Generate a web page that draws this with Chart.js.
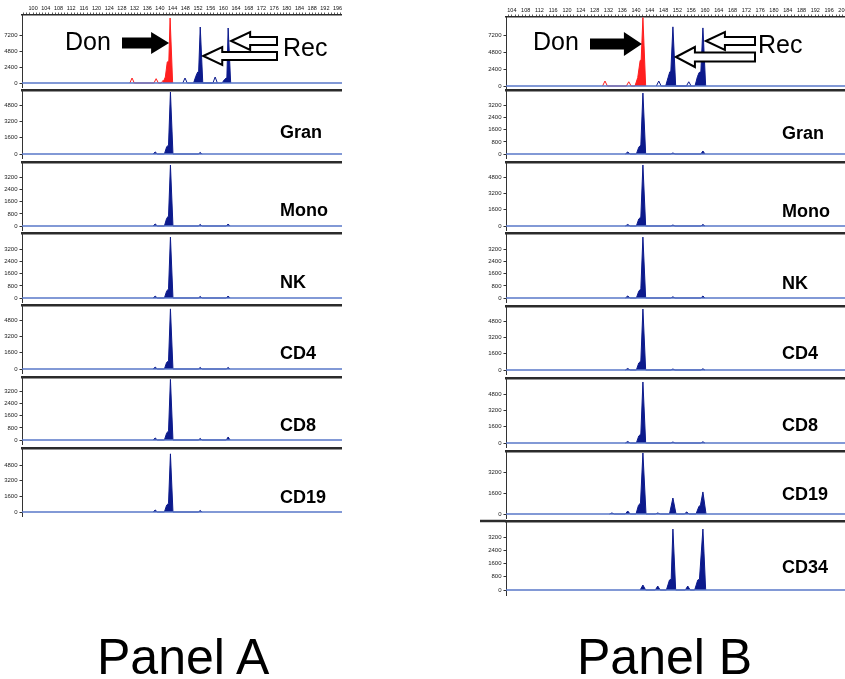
<!DOCTYPE html>
<html>
<head>
<meta charset="utf-8">
<script src="https://cdn.jsdelivr.net/npm/chart.js@4.4.0/dist/chart.umd.min.js"></script>
<style>
  body { margin: 0; background: #fff; width: 845px; height: 679px; position: relative; overflow: hidden;
         font-family: "Liberation Sans", Arial, sans-serif; }
  canvas { position: absolute; }
  .cap { position: absolute; top: 632px; font-size: 50px; line-height: 50px; color: #000; white-space: nowrap; }
</style>
</head>
<body>
<div class="cap" style="left:97px">Panel A</div>
<div class="cap" style="left:577px">Panel B</div>
<script>
// size ruler labels (bp)
const rulerA = [100,104,108,112,116,120,124,128,132,136,140,144,148,152,156,160,164,168,172,176,180,184,188,192,196];
const rulerB = [104,108,112,116,120,124,128,132,136,140,144,148,152,156,160,164,168,172,176,180,184,188,192,196,200];

// RFU tick labels
const ticks7200 = [0, 2400, 4800, 7200];
const ticks4800 = [0, 1600, 3200, 4800];
const ticks3200 = [0, 800, 1600, 2400, 3200];
const ticks3200b = [0, 1600, 3200];

// fraction labels
const fractionsA = ['Gran', 'Mono', 'NK', 'CD4', 'CD8', 'CD19'];
const fractionsB = ['Gran', 'Mono', 'NK', 'CD4', 'CD8', 'CD19', 'CD34'];

// traces as [size bp, RFU] vertices
// Panel A - pre-transplant mix
const donorA        = [[140.9,0],[141.7,900],[142.3,3150],[142.8,3300],[143.2,9750],[144.0,0]];
const donorStutterA = [[130.5,0],[131.2,750],[131.9,0],[138.1,0],[138.8,650],[139.5,0],[140.4,0],[141.0,400],[141.3,0]];
const recipA        = [[150.6,0],[151.3,1000],[151.9,1650],[152.2,1700],[152.7,8400],[153.5,0],
                       [159.6,0],[160.3,500],[160.9,750],[161.1,800],[161.5,8250],[162.3,0]];
const recipStutterA = [[147.2,0],[147.9,750],[148.6,0],[156.7,0],[157.4,900],[158.1,0]];

const granA = [[137.8,0],[138.5,200],[139.2,0],[141.4,0],[142.1,700],[142.7,890],[143.3,6130],[144.1,0],[152.1,0],[152.7,150],[153.3,0]];
const monoA = [[137.8,0],[138.5,130],[139.2,0],[141.4,0],[142.1,500],[142.7,660],[143.3,4020],[144.1,0],[152.1,0],[152.7,100],[153.3,0],[160.9,0],[161.5,130],[162.1,0]];
const nkA   = [[137.8,0],[138.5,120],[139.2,0],[141.4,0],[142.1,450],[142.7,600],[143.3,4020],[144.1,0],[152.1,0],[152.7,100],[153.3,0],[160.9,0],[161.5,130],[162.1,0]];
const cd4A  = [[137.8,0],[138.5,180],[139.2,0],[141.4,0],[142.1,650],[142.7,800],[143.3,5950],[144.1,0],[152.1,0],[152.7,150],[153.3,0],[160.9,0],[161.5,150],[162.1,0]];
const cd8A  = [[137.8,0],[138.5,130],[139.2,0],[141.4,0],[142.1,450],[142.7,600],[143.3,4000],[144.1,0],[152.1,0],[152.7,100],[153.3,0],[160.9,0],[161.5,200],[162.1,0]];
const cd19A = [[137.8,0],[138.5,200],[139.2,0],[141.4,0],[142.1,700],[142.7,890],[143.3,5940],[144.1,0],[152.1,0],[152.7,150],[153.3,0]];

// Panel B - post-transplant
const donorB        = [[139.7,0],[140.5,1200],[141.2,3600],[141.5,3700],[142.0,9650],[142.8,0]];
const donorStutterB = [[130.3,0],[131.0,700],[131.7,0],[137.2,0],[137.9,600],[138.6,0],[139.7,0],[140.3,400],[140.6,0]];
const recipB        = [[148.6,0],[149.3,1200],[149.8,2000],[150.1,2100],[150.7,8350],[151.5,0],
                       [157.1,0],[157.8,1300],[158.3,1900],[158.8,2000],[159.4,8200],[160.2,0]];
const recipStutterB = [[145.9,0],[146.6,700],[147.3,0],[154.6,0],[155.3,600],[156.0,0]];

const granB = [[136.9,0],[137.6,130],[138.3,0],[140.1,0],[140.8,450],[141.4,590],[142.0,4020],[142.8,0],[150.1,0],[150.7,70],[151.3,0],[158.8,0],[159.4,200],[160.0,0]];
const monoB = [[136.9,0],[137.6,150],[138.3,0],[140.1,0],[140.8,700],[141.4,890],[142.0,6040],[142.8,0],[150.1,0],[150.7,100],[151.3,0],[158.8,0],[159.4,150],[160.0,0]];
const nkB   = [[136.9,0],[137.6,130],[138.3,0],[140.1,0],[140.8,450],[141.4,600],[142.0,4020],[142.8,0],[150.1,0],[150.7,80],[151.3,0],[158.8,0],[159.4,130],[160.0,0]];
const cd4B  = [[136.9,0],[137.6,150],[138.3,0],[140.1,0],[140.8,700],[141.4,890],[142.0,6040],[142.8,0],[150.1,0],[150.7,100],[151.3,0],[158.8,0],[159.4,120],[160.0,0]];
const cd8B  = [[136.9,0],[137.6,150],[138.3,0],[140.1,0],[140.8,700],[141.4,890],[142.0,6040],[142.8,0],[150.1,0],[150.7,100],[151.3,0],[158.8,0],[159.4,120],[160.0,0]];
const cd19B = [[132.3,0],[133.0,80],[133.7,0],[136.9,0],[137.6,230],[138.3,0],[140.0,0],[140.7,650],[141.3,840],[142.0,4650],[142.9,0],
               [145.6,0],[146.3,80],[147.0,0],[149.7,0],[150.7,1220],[151.6,0],[154.0,0],[154.7,150],[155.4,0],
               [157.4,0],[158.2,550],[158.7,690],[159.4,1680],[160.3,0]];
const cd34B = [[141.2,0],[142.0,300],[142.8,0],[145.6,0],[146.3,240],[147.0,0],[148.8,0],[149.7,600],[150.2,650],[150.7,3680],[151.5,0],
               [154.3,0],[155.0,240],[155.7,0],[157.0,0],[157.9,600],[158.4,650],[159.4,3680],[160.2,0]];

const navy = '#0c1a8c';
const red = '#ff1f1f';
const baseBlue = '#5877c8';
const frameColor = '#2b2b2b';

// frame extensions, fraction names, Don/Rec callouts
const tagPlugin = {
  id: 'tag',
  afterDraw(chart, args, o) {
    const ctx = chart.ctx, a = chart.chartArea, xs = chart.scales.x;
    ctx.save();
    if (o.extend) {
      ctx.strokeStyle = frameColor; ctx.lineWidth = 2.5;
      ctx.beginPath(); ctx.moveTo(0, a.top); ctx.lineTo(a.left, a.top); ctx.stroke();
    }
    (o.words || []).forEach(w => {
      ctx.font = (w.bold ? 'bold ' : '') + w.size + 'px "Liberation Sans", Arial, sans-serif';
      ctx.fillStyle = '#000';
      ctx.textBaseline = 'alphabetic';
      ctx.fillText(w.text, w.x - o.ox, w.y - o.oy);
    });
    (o.arrows || []).forEach(r => {
      const tip = xs.getPixelForValue(r.bp) + r.gap;
      const tail = r.tail - o.ox, y = r.y - o.oy;
      const dir = Math.sign(tail - tip);
      const neck = tip + dir * r.head;
      ctx.beginPath();
      ctx.moveTo(tip, y);
      ctx.lineTo(neck, y - r.hw);
      ctx.lineTo(neck, y - r.sw);
      ctx.lineTo(tail, y - r.sw);
      ctx.lineTo(tail, y + r.sw);
      ctx.lineTo(neck, y + r.sw);
      ctx.lineTo(neck, y + r.hw);
      ctx.closePath();
      if (r.solid) {
        ctx.fillStyle = '#000'; ctx.fill();
      } else {
        ctx.fillStyle = '#fff'; ctx.fill();
        ctx.strokeStyle = '#000'; ctx.lineWidth = 2; ctx.lineJoin = 'miter'; ctx.stroke();
      }
    });
    ctx.restore();
  }
};

function makeChart(p) {
  const cv = document.createElement('canvas');
  cv.width = p.w; cv.height = p.h;
  cv.style.left = p.x + 'px'; cv.style.top = p.y + 'px';
  document.body.appendChild(cv);

  const datasets = [{
    data: [[p.xMin, 0], [p.xMax, 0]],
    borderColor: baseBlue, borderWidth: 1.3, pointRadius: 0, fill: false
  }];
  p.traces.forEach(t => datasets.push({
    data: t.data,
    borderColor: t.color,
    backgroundColor: t.color,
    borderWidth: t.fill ? 1 : 1,
    pointRadius: 0,
    tension: 0,
    fill: t.fill ? 'origin' : false
  }));

  const ruler = p.ruler;
  return new Chart(cv, {
    type: 'line',
    data: { datasets },
    options: {
      responsive: false,
      animation: false,
      devicePixelRatio: 1,
      layout: { padding: { top: p.padTop, bottom: p.padBottom, left: 0, right: 0 } },
      plugins: {
        legend: { display: false },
        tooltip: { enabled: false },
        tag: Object.assign({ ox: p.x, oy: p.y }, p.tag)
      },
      scales: {
        x: {
          type: 'linear',
          position: 'top',
          min: p.xMin,
          max: p.xMax,
          afterBuildTicks: s => {
            if (!ruler) return;
            const t = [];
            for (let v = Math.ceil(p.xMin); v <= p.xMax; v++) t.push({ value: v });
            s.ticks = t;
          },
          afterFit: s => { s.height = p.rulerH; s.paddingLeft = 0; s.paddingRight = 0; },
          ticks: {
            display: !!ruler,
            autoSkip: false,
            maxRotation: 0,
            padding: 1,
            font: { size: 5.5, family: '"Liberation Sans", Arial' },
            color: '#111',
            callback: v => (ruler && ruler.includes(v)) ? String(v) : ''
          },
          grid: { display: !!ruler, drawOnChartArea: false, drawTicks: !!ruler, tickLength: 2.5, color: '#333', lineWidth: 0.8 },
          border: { display: true, color: frameColor, width: ruler ? 1.5 : 2.5 }
        },
        y: {
          min: p.yMin,
          max: p.yMax,
          afterBuildTicks: s => { s.ticks = p.yTicks.map(v => ({ value: v })); },
          afterFit: s => { s.width = p.axisW; s.paddingTop = 0; s.paddingBottom = 0; },
          ticks: {
            font: { size: 6, family: '"Liberation Sans", Arial' },
            color: '#222',
            padding: 2,
            callback: v => String(v)
          },
          grid: { drawOnChartArea: false, tickLength: 2.5, color: '#333', lineWidth: 1 },
          border: { color: '#333', width: 1 }
        }
      }
    },
    plugins: [tagPlugin]
  });
}

// panel geometry
const panelA = { x: 0, w: 342, axisW: 22, xMin: 96.5, xMax: 197.4, labelX: 280 };
const panelB = { x: 480, w: 365, axisW: 26, xMin: 102.3, xMax: 200.6, labelX: 782 };

// one strip: frame line at S, baseline at base, lower edge at bottom
function strip(panel, S, base, bottom, ticks, tickPx, data, label, labelY, extra) {
  const maxTick = ticks[ticks.length - 1];
  makeChart(Object.assign({
    x: panel.x, y: S - 3, w: panel.w, h: bottom - S + 6,
    padTop: 3, padBottom: 3, rulerH: 0, axisW: panel.axisW,
    xMin: panel.xMin, xMax: panel.xMax,
    yMin: -maxTick * (bottom - base) / tickPx,
    yMax: maxTick * (base - S) / tickPx,
    yTicks: ticks,
    traces: [{ data, color: navy, fill: true }],
    tag: Object.assign({ words: [{ text: label, x: panel.labelX, y: labelY, size: 18, bold: true }] }, extra || {})
  }));
}

// top electropherograms with size ruler
function topTrace(panel, top, base, bottom, tickPx, ruler, donor, donorStutter, recip, recipStutter, tag) {
  makeChart({
    x: panel.x, y: 0, w: panel.w, h: bottom + 3,
    padTop: 2, padBottom: 3, rulerH: top - 2, axisW: panel.axisW,
    xMin: panel.xMin, xMax: panel.xMax,
    yMin: -7200 * (bottom - base) / tickPx,
    yMax: 7200 * (base - top) / tickPx,
    yTicks: ticks7200,
    ruler,
    traces: [
      { data: donorStutter, color: red, fill: false },
      { data: recipStutter, color: navy, fill: false },
      { data: donor, color: red, fill: true },
      { data: recip, color: navy, fill: true }
    ],
    tag
  });
}

topTrace(panelA, 15, 83, 87, 48, rulerA, donorA, donorStutterA, recipA, recipStutterA, {
  words: [{ text: 'Don', x: 65, y: 50, size: 25 }, { text: 'Rec', x: 283, y: 56, size: 25 }],
  arrows: [
    { bp: 143.2, gap: -1, tail: 122, y: 43, head: 18, hw: 11, sw: 5.5, solid: true },
    { bp: 161.5, gap: 3, tail: 277, y: 41, head: 19, hw: 9, sw: 4, solid: false },
    { bp: 152.7, gap: 3, tail: 277, y: 56, head: 19, hw: 9, sw: 4, solid: false }
  ]
});
topTrace(panelB, 17, 86, 88, 51, rulerB, donorB, donorStutterB, recipB, recipStutterB, {
  words: [{ text: 'Don', x: 533, y: 50, size: 25 }, { text: 'Rec', x: 758, y: 53, size: 25 }],
  arrows: [
    { bp: 142.0, gap: -1, tail: 590, y: 44, head: 18, hw: 12, sw: 5.5, solid: true },
    { bp: 159.4, gap: 3, tail: 755, y: 41, head: 19, hw: 9, sw: 4, solid: false },
    { bp: 150.7, gap: 3, tail: 755, y: 57, head: 19, hw: 10, sw: 4.5, solid: false }
  ]
});

strip(panelA, 90, 154, 158, ticks4800, 48.5, granA, fractionsA[0], 138);
strip(panelA, 162, 226, 230, ticks3200, 48.5, monoA, fractionsA[1], 216);
strip(panelA, 233, 298, 302, ticks3200, 48.5, nkA, fractionsA[2], 288);
strip(panelA, 305, 369, 373, ticks4800, 48.5, cd4A, fractionsA[3], 359);
strip(panelA, 377, 440, 444, ticks3200, 48.5, cd8A, fractionsA[4], 431);
strip(panelA, 448, 512, 516, ticks4800, 47, cd19A, fractionsA[5], 503);

strip(panelB, 90, 154, 158, ticks3200, 48.5, granB, fractionsB[0], 139);
strip(panelB, 162, 226, 230, ticks4800, 48.5, monoB, fractionsB[1], 217);
strip(panelB, 233, 298, 302, ticks3200, 48.5, nkB, fractionsB[2], 289);
strip(panelB, 306, 370, 374, ticks4800, 48.5, cd4B, fractionsB[3], 359);
strip(panelB, 378, 443, 447, ticks4800, 48.5, cd8B, fractionsB[4], 431);
strip(panelB, 451, 514, 518, ticks3200b, 42, cd19B, fractionsB[5], 500);
strip(panelB, 521, 590, 595, ticks3200, 53, cd34B, fractionsB[6], 573, { extend: true });
</script>
</body>
</html>
